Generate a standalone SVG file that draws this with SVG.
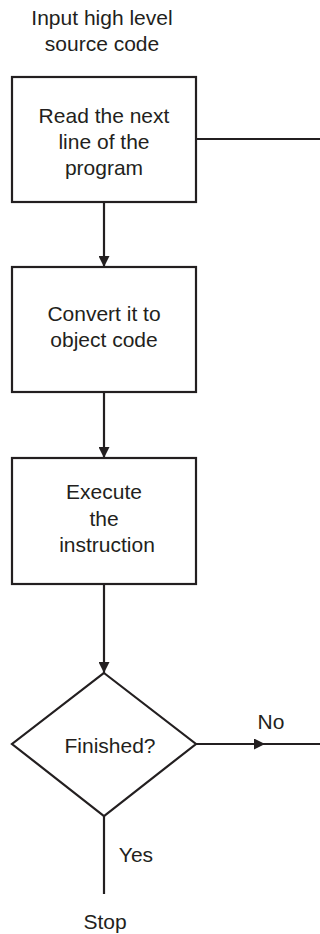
<svg xmlns="http://www.w3.org/2000/svg" width="320" height="934" viewBox="0 0 320 934">
<defs>
<marker id="arr" viewBox="0 0 10 10" refX="10" refY="5" markerWidth="11" markerHeight="11" markerUnits="userSpaceOnUse" orient="auto">
<path d="M0,0 L10,5 L0,10 z" fill="#231f20"/>
</marker>
</defs>
<style>
.shape{fill:#fff;stroke:#231f20;stroke-width:2.2}
.line{fill:none;stroke:#231f20;stroke-width:2.2}
text{font-family:"Liberation Sans",Arial,sans-serif;font-size:21px;fill:#231f20;text-anchor:middle}
</style>
<rect width="320" height="934" fill="#fff"/>
<g id="connectors">
<line class="line" x1="196" y1="139" x2="320" y2="139"/>
<line class="line" x1="104" y1="202" x2="104" y2="267" marker-end="url(#arr)"/>
<line class="line" x1="104" y1="392" x2="104" y2="458" marker-end="url(#arr)"/>
<line class="line" x1="104" y1="584" x2="104" y2="673" marker-end="url(#arr)"/>
<line class="line" x1="196" y1="744" x2="265" y2="744" marker-end="url(#arr)"/>
<line class="line" x1="264" y1="744" x2="320" y2="744"/>
<line class="line" x1="104" y1="816" x2="104" y2="894"/>
<text x="271" y="729">No</text>
<text x="136" y="862">Yes</text>
</g>
<g id="input">
<text x="102" y="25">Input high level</text>
<text x="102" y="51">source code</text>
</g>
<g id="read">
<rect class="shape" x="12" y="77" width="184" height="125"/>
<text x="104" y="123">Read the next</text>
<text x="104" y="149">line of the</text>
<text x="104" y="175">program</text>
</g>
<g id="convert">
<rect class="shape" x="12" y="267" width="184" height="125"/>
<text x="104" y="321">Convert it to</text>
<text x="104" y="347">object code</text>
</g>
<g id="execute">
<rect class="shape" x="12" y="458" width="184" height="126"/>
<text x="104" y="499">Execute</text>
<text x="104" y="526">the</text>
<text x="107" y="552">instruction</text>
</g>
<g id="finished">
<polygon class="shape" points="104,673 196,744 104,816 12,744"/>
<text x="110" y="753">Finished?</text>
</g>
<g id="stop">
<text x="105" y="929">Stop</text>
</g>
</svg>
